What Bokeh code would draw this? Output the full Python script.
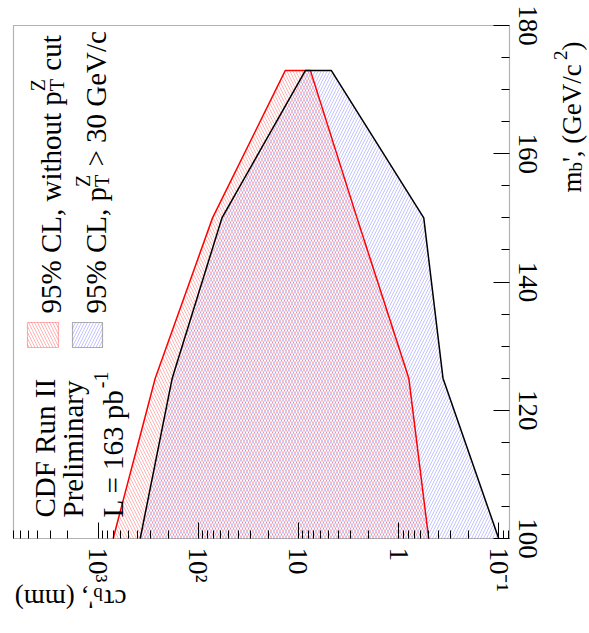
import math
from bokeh.plotting import figure
from bokeh.models import Range1d, FixedTicker, Label, BoxAnnotation
from bokeh.embed import file_html
from bokeh.resources import INLINE

# ---------------- data ----------------
mass = [100, 125, 150, 173]                 # m_b' (GeV/c^2)
ctau_max_nocut = [708, 269, 72, 13.5]       # upper edge, 95% CL without pT cut (mm)
ctau_min_nocut = [0.50, 0.79, 2.6, 7.6]     # lower edge, 95% CL without pT cut (mm)
ctau_max_cut = [380, 182, 58, 8.5]          # upper edge, 95% CL pT^Z > 30 GeV/c
ctau_min_cut = [0.10, 0.36, 0.56, 4.7]      # lower edge, 95% CL pT^Z > 30 GeV/c

CTAU_LO, CTAU_HI = 0.078, 7000              # visible cτ range
MASS_LO, MASS_HI = 100, 180                 # visible m range
ctau_ticks = [0.1, 1, 10, 100, 1000]
ctau_tick_labels = ["10⁻¹", "1", "10", "10²", "10³"]
ctau_minor = [m * 10.0 ** k for k in range(-2, 4) for m in range(2, 10)
              if CTAU_LO <= m * 10.0 ** k <= CTAU_HI]
mass_ticks = [100, 120, 140, 160, 180]
mass_minor = [v for v in range(MASS_LO, MASS_HI + 1, 5) if v not in mass_ticks]

FONT = "Liberation Serif"
CW, CH = 589, 633                           # canvas
FL, FT, FR, FB = 13, 25, 509, 538           # plot-box edges in canvas pixels

# The figure frame covers the whole canvas; ranges are extended so that the
# data box lands on the plot-box pixels, axes are pinned to its edges.
dec_px = (FR - FL) / (math.log10(CTAU_HI) - math.log10(CTAU_LO))
x_start = 10 ** (math.log10(CTAU_HI) + FL / dec_px)
x_end = 10 ** (math.log10(CTAU_LO) - (CW - FR) / dec_px)
m_px = (FB - FT) / (MASS_HI - MASS_LO)
y_end = MASS_HI + FT / m_px
y_start = MASS_LO - (CH - FB) / m_px

p = figure(width=CW, height=CH, x_axis_type="log",
           x_range=Range1d(x_start, x_end), y_range=Range1d(y_start, y_end),
           y_axis_location="right", output_backend="svg", toolbar_location=None,
           title=None, min_border=0)
p.grid.visible = False
p.outline_line_color = None
p.background_fill_color = "white"
p.border_fill_color = "white"

# ---------------- bands ----------------
xs_nocut = ctau_max_nocut + ctau_min_nocut[::-1]
ys_nocut = mass + mass[::-1]
xs_cut = ctau_max_cut + ctau_min_cut[::-1]
ys_cut = mass + mass[::-1]

RED_HATCH = dict(hatch_pattern="left_diagonal_line", hatch_color="#ff4444",
                 hatch_alpha=0.4, hatch_scale=6, hatch_weight=1)
BLUE_HATCH = dict(hatch_pattern="right_diagonal_line", hatch_color="#5555ff",
                  hatch_alpha=0.35, hatch_scale=6, hatch_weight=1)

p.patch(xs_cut, ys_cut, fill_color=None, line_color=None, **BLUE_HATCH)
p.patch(xs_nocut, ys_nocut, fill_color=None, line_color=None, **RED_HATCH)
p.line(xs_nocut, ys_nocut, line_color="#ff0000", line_width=1.5)
p.line(xs_cut, ys_cut, line_color="black", line_width=1.5)

# plot box outline
p.add_layout(BoxAnnotation(left=CTAU_HI, right=CTAU_LO, bottom=MASS_LO, top=MASS_HI,
                           fill_color=None, line_color="black", line_width=1.2,
                           level="overlay"))

# ---------------- axes (pinned to the plot box) ----------------
xax = p.xaxis[0]
xax.ticker = FixedTicker(ticks=ctau_ticks, minor_ticks=ctau_minor)
xax.major_label_overrides = dict(zip(ctau_ticks, ctau_tick_labels))
xax.fixed_location = MASS_LO
yax = p.yaxis[0]
yax.ticker = FixedTicker(ticks=mass_ticks, minor_ticks=mass_minor)
yax.fixed_location = CTAU_LO
for ax in (xax, yax):
    ax.major_label_orientation = "vertical"
    ax.major_tick_in = 16
    ax.major_tick_out = 0
    ax.minor_tick_in = 8
    ax.minor_tick_out = 0
    ax.major_label_text_font = FONT
    ax.major_label_text_font_size = "27px"
    ax.major_label_text_color = "black"
    ax.major_label_standoff = 9
    ax.axis_line_color = None
    ax.major_tick_line_color = "black"
    ax.minor_tick_line_color = "black"

# ---------------- composite rotated texts ----------------
W = {'0': 500, '1': 500, '2': 500, '3': 500, '5': 500, '6': 500, '9': 500,
     ' ': 250, '%': 833, 'C': 667, 'L': 611, ',': 250, 'w': 722, 'i': 278,
     't': 278, 'h': 500, 'o': 500, 'u': 500, 'p': 500, 'T': 611, 'Z': 611,
     'c': 444, '>': 564, 'G': 722, 'e': 444, 'V': 722, '/': 278, '(': 333,
     ')': 333, 'm': 778, 'b': 500, "'": 333, '=': 564, 'D': 722, 'F': 556,
     'R': 667, 'I': 333, 'P': 556, 'r': 333, 'l': 278, 'n': 500, 'a': 444,
     'y': 500, '-': 333, 'τ': 440}


def width(s, size):
    return sum(W.get(ch, 500) for ch in s) * size / 1000.0


def comp_text(pieces, cx, cy, angle):
    """pieces: (text, size, shift_up_px, extra_advance or None); cx, cy: canvas baseline start"""
    ax_, ay_ = math.cos(angle), -math.sin(angle)      # along-text direction (screen, y down)
    ux, uy = -math.sin(angle), -math.cos(angle)       # 'up' direction (screen, y down)
    pos = 0.0
    for text, size, up, extra in pieces:
        lead = len(text) - len(text.lstrip(" "))
        start = pos + width(" " * lead, size)
        body = text.lstrip(" ")
        px = cx + ax_ * start + ux * up
        py = cy + ay_ * start + uy * up
        if body:
            p.add_layout(Label(x=px, y=CH - py, x_units="screen", y_units="screen",
                               text=body, angle=angle, text_align="left",
                               text_baseline="alphabetic", text_font=FONT,
                               text_font_size=f"{size}px", text_color="black"))
        if extra is not None:
            pos += width(text, size) + extra


V = math.pi / 2
S = 20  # script size
# CDF labels
comp_text([("CDF Run II", 29, 0, 0)], 44, 517, V)
comp_text([("Preliminary", 29, 0, 0)], 72, 517, V)
comp_text([("L = 163 pb", 29, 0, 1), ("-1", S, 12, 0)], 112, 517, V)
# legend entries
comp_text([("95% CL, without p", 29, 0, 0), ("T", S, -6, None), ("Z", S, 13, 1),
           (" cut", 29, 0, 0)], 50, 313, V)
comp_text([("95% CL, p", 29, 0, 0), ("T", S, -6, None), ("Z", S, 13, 1),
           (" > 30 GeV/c", 29, 0, 0)], 95, 313, V)
# axis titles
comp_text([("m", 27, 0, 0), ("b", 19, -4, 0), ("', (GeV/c", 27, 0, 0),
           ("2", 19, 11, 0), (")", 27, 0, 0)], 571, 192, V)
comp_text([("cτ", 27, 0, 0), ("b", 19, -4, 0), ("', (mm)", 27, 0, 0)],
          126, 598, math.pi)

# legend boxes
BOX = dict(left_units="screen", right_units="screen", top_units="screen",
           bottom_units="screen", fill_color=None, line_width=1.2)
p.add_layout(BoxAnnotation(left=27, right=58, top=CH - 322, bottom=CH - 347,
                           line_color="#ff0000", **BOX, **RED_HATCH))
p.add_layout(BoxAnnotation(left=72, right=102, top=CH - 322, bottom=CH - 347,
                           line_color="black", **BOX, **BLUE_HATCH))

open("out.html", "w").write(file_html(p, INLINE))
